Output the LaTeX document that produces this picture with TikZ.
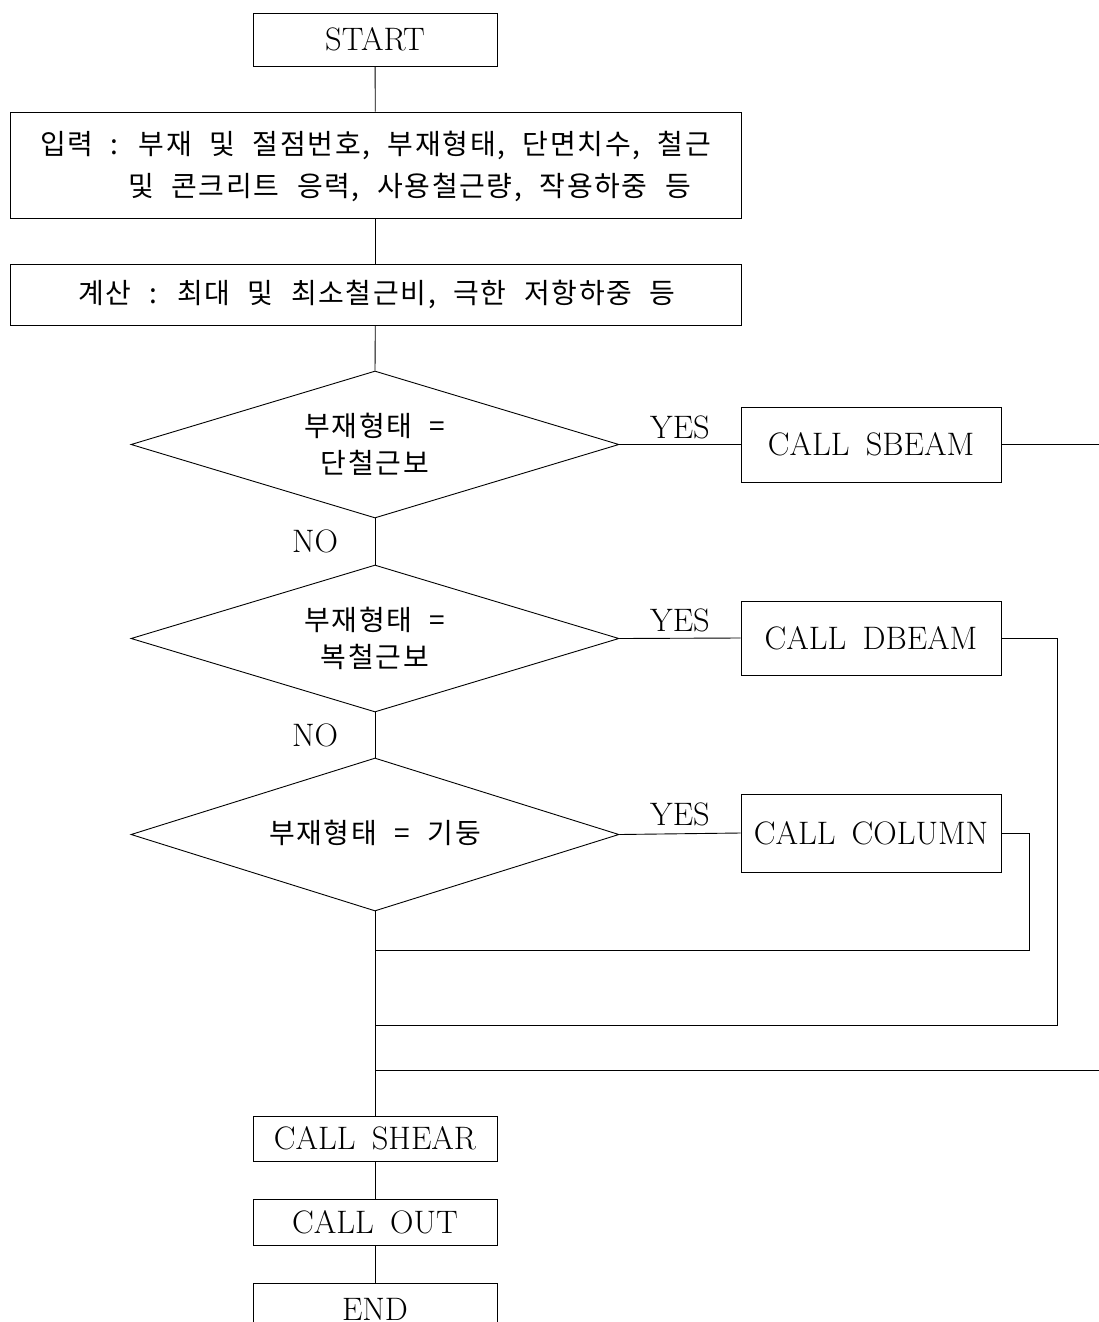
\documentclass[tikz,border=0pt]{standalone}
\usepackage{fontspec}
\newfontfamily\kr[LetterSpace=6,WordSpace=2.2]{Noto Sans CJK KR}
\usetikzlibrary{shapes.geometric}
\newcommand\callgap{\hspace{0.5em}}
\begin{document}
\begin{tikzpicture}[x=1pt,y=-1pt,
  every node/.style={font=\fontsize{32.5}{38}\selectfont},
  box/.style={draw, line width=0.9pt, inner sep=0pt, anchor=center},
  dia/.style={draw, diamond, line width=0.9pt, inner sep=0pt, minimum width=488pt},
  kr/.style={font=\kr\fontsize{28}{37}\selectfont, inner sep=0pt},
  lbl/.style={inner sep=0pt},
  conn/.style={line width=0.9pt}]
\useasboundingbox (0,0) rectangle (1098,1322);

\node[box, minimum width=244pt, minimum height=53pt] (start) at (375,39.5) {START};
\node[box, minimum width=731pt, minimum height=106pt] (inp) at (375.5,165) {};
\node[kr, font=\kr\fontsize{28}{42}\selectfont, align=left, anchor=west] (inpt) at (40,166)
  {입력 : 부재 및 절점번호, 부재형태, 단면치수, 철근\\\hspace*{88pt}및 콘크리트 응력, 사용철근량, 작용하중 등};
\node[box, minimum width=731pt, minimum height=61pt] (calc) at (375.5,294.5) {};
\node[kr] (calct) at (377,294) {계산 : 최대 및 최소철근비, 극한 저항하중 등};

\node[dia, minimum height=147pt] (d1) at (375,444.5) {};
\node[kr, align=center] (d1t) at (375,444) {부재형태 =\\단철근보};
\node[dia, minimum height=147pt] (d2) at (375,638.5) {};
\node[kr, align=center] (d2t) at (375,638) {부재형태 =\\복철근보};
\node[dia, minimum height=153pt] (d3) at (375,834.5) {};
\node[kr] (d3t) at (375,833) {부재형태 = 기둥};

\node[box, minimum width=260pt, minimum height=75pt] (sbeam) at (871,444.5) {CALL\callgap SBEAM};
\node[box, minimum width=260pt, minimum height=74pt] (dbeam) at (871,638) {CALL\callgap DBEAM};
\node[box, minimum width=260pt, minimum height=78pt] (col) at (871,833) {CALL\callgap COLUMN};

\node[lbl] (y1) at (680,427) {YES};
\node[lbl] (y2) at (680,620) {YES};
\node[lbl] (y3) at (680,814) {YES};
\node[lbl] (n1) at (315,541) {NO};
\node[lbl] (n2) at (315,735) {NO};

\node[box, minimum width=244pt, minimum height=45pt] (shear) at (375,1138.5) {CALL\callgap SHEAR};
\node[box, minimum width=244pt, minimum height=46pt] (out) at (375,1222) {CALL\callgap OUT};
\node[box, minimum width=244pt, minimum height=53pt] (end) at (375,1309.5) {END};

\coordinate (j1) at (375,950);
\coordinate (j2) at (375,1025);
\coordinate (j3) at (375,1070);

\draw[conn] (start) -- (inp);
\draw[conn] (inp) -- (calc);
\draw[conn] (calc) -- (d1.north);
\draw[conn] (d1.south) -- (d2.north);
\draw[conn] (d2.south) -- (d3.north);
\draw[conn] (d3.south) -- (shear.north);
\draw[conn] (shear) -- (out);
\draw[conn] (out) -- (end);
\draw[conn] (d1.east) -- (sbeam.west);
\draw[conn] (d2.east) -- (dbeam.west);
\draw[conn] (d3.east) -- (col.west);
\draw[conn] (sbeam.east) -- ++(110,0) |- (j3);
\draw[conn] (dbeam.east) -- ++(56,0) |- (j2);
\draw[conn] (col.east) -- ++(28,0) |- (j1);
\end{tikzpicture}
\end{document}
